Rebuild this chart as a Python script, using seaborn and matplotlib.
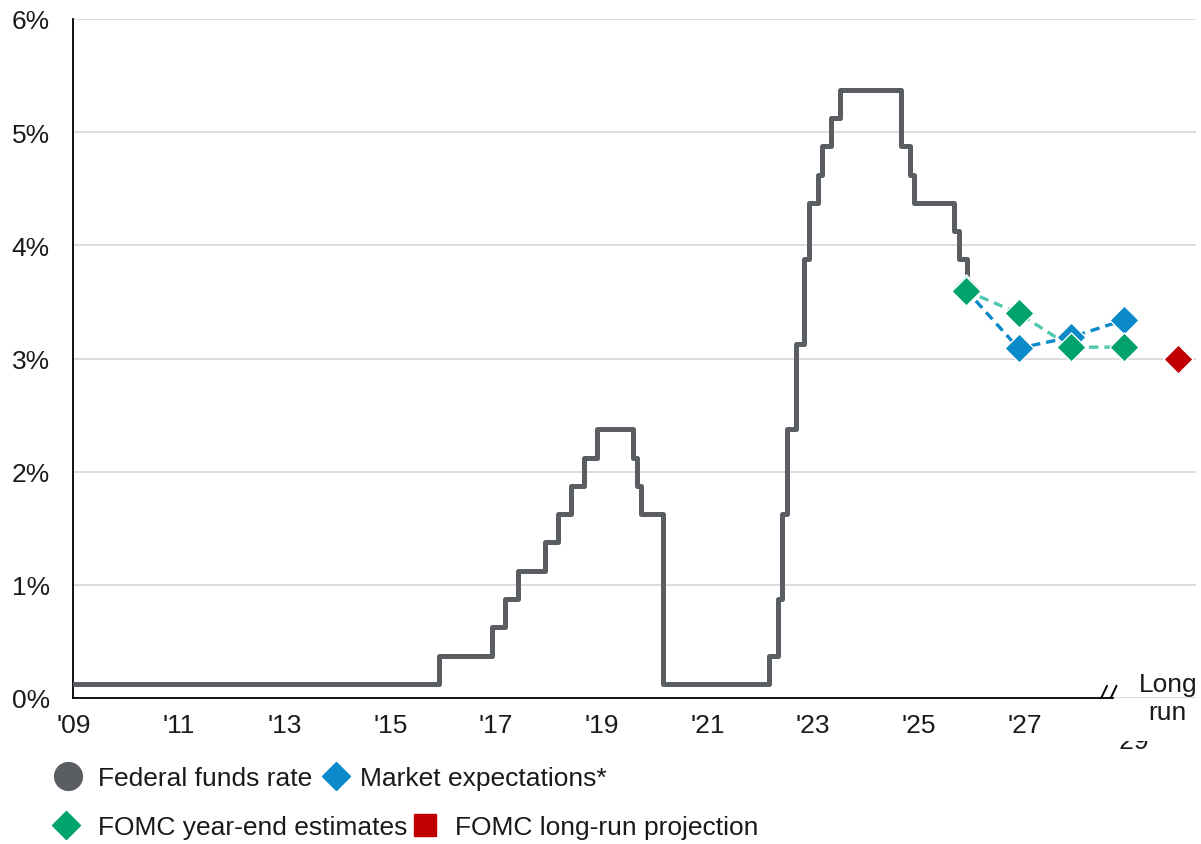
import numpy as np
import pandas as pd
import matplotlib
matplotlib.use("Agg")
import matplotlib.pyplot as plt
import matplotlib.transforms as mtransforms
from matplotlib.lines import Line2D
from matplotlib.patches import Rectangle
import seaborn as sns

# ---------------- data ----------------
# Federal funds rate (midpoint of target range): month of change and new level
change_months = ["2009-01", "2015-12", "2016-12", "2017-03", "2017-06", "2017-12",
                 "2018-03", "2018-06", "2018-09", "2018-12", "2019-08", "2019-09",
                 "2019-10", "2020-03", "2022-03", "2022-05", "2022-06", "2022-07",
                 "2022-09", "2022-11", "2022-12", "2023-02", "2023-03", "2023-05",
                 "2023-07", "2024-09", "2024-11", "2024-12", "2025-09", "2025-10",
                 "2025-12"]
change_levels = [0.125, 0.375, 0.625, 0.875, 1.125, 1.375,
                 1.625, 1.875, 2.125, 2.375, 2.125, 1.875,
                 1.625, 0.125, 0.375, 0.875, 1.625, 2.375,
                 3.125, 3.875, 4.375, 4.625, 4.875, 5.125,
                 5.375, 4.875, 4.625, 4.375, 4.125, 3.875,
                 3.625]
series_start, series_end = "2009-01", "2025-12"

proj_dates = ["2025-11-20", "2026-11-20", "2027-11-20", "2028-11-20"]
market_expectations = [3.61, 3.09, 3.19, 3.34]
fomc_year_end = [3.60, 3.40, 3.10, 3.10]
longrun_date = "2029-11-24"
fomc_long_run = [3.00]

tick_years = [2009, 2011, 2013, 2015, 2017, 2019, 2021, 2023, 2025, 2027, 2029]
tick_labels = ["'09", "'11", "'13", "'15", "'17", "'19", "'21", "'23", "'25", "'27", "'29"]
y_ticks = [0, 1, 2, 3, 4, 5, 6]
y_labels = ["0%", "1%", "2%", "3%", "4%", "5%", "6%"]

legend_labels = ["Federal funds rate", "Market expectations*",
                 "FOMC year-end estimates", "FOMC long-run projection"]

# ---------------- styling ----------------
GRAY = "#5a5d61"
BLUE = "#0a8ac8"
GREEN = "#00a36c"
TEAL = "#52c7b0"
RED = "#c00000"
TXT = "#1a1a1a"
FS = 19

sns.set_theme(style="white")
plt.rcParams["font.family"] = ["Liberation Sans", "DejaVu Sans"]


def dec_year(ts):
    ts = pd.Timestamp(ts)
    return ts.year + (ts.dayofyear - 1) / (366 if ts.is_leap_year else 365)


months = pd.period_range(series_start, series_end, freq="M")
rate = pd.Series(np.nan, index=months)
for m, v in zip(change_months, change_levels):
    rate[pd.Period(m, "M")] = v
rate = rate.ffill()
fed_df = pd.DataFrame({"x": months.year + (months.month - 1) / 12.0,
                       "rate": rate.values})

proj_x = [dec_year(d) for d in proj_dates]
lr_x = [dec_year(longrun_date)]
mkt_df = pd.DataFrame({"x": proj_x, "v": market_expectations})
fomc_df = pd.DataFrame({"x": proj_x, "v": fomc_year_end})
lr_df = pd.DataFrame({"x": lr_x, "v": fomc_long_run})

W, H = 1201, 845
fig = plt.figure(figsize=(W / 100, H / 100), dpi=100)
px_per_year = 52.85
x_min, x_max = 2009.0, 2030.25
left_px, bottom_px, top_px = 73.3, 699, 20
ax_h_px = bottom_px - top_px
ax = fig.add_axes([left_px / W, 1 - bottom_px / H,
                   (x_max - x_min) * px_per_year / W, ax_h_px / H])

sns.lineplot(data=fed_df, x="x", y="rate", ax=ax, color=GRAY, linewidth=3.6,
             drawstyle="steps-post", legend=False, zorder=3)

sns.lineplot(data=fomc_df, x="x", y="v", ax=ax, color=TEAL, linewidth=2.4,
             linestyle=(0, (2.8, 1.8)), legend=False, zorder=4)
sns.lineplot(data=mkt_df, x="x", y="v", ax=ax, color=BLUE, linewidth=2.4,
             linestyle=(0, (2.8, 1.8)), legend=False, zorder=5)
sns.scatterplot(data=mkt_df, x="x", y="v", ax=ax, marker="D", s=220, color=BLUE,
                edgecolor="white", linewidth=1.0, legend=False, zorder=6)
sns.scatterplot(data=fomc_df, x="x", y="v", ax=ax, marker="D", s=220, color=GREEN,
                edgecolor="white", linewidth=1.0, legend=False, zorder=7)
sns.scatterplot(data=lr_df, x="x", y="v", ax=ax, marker="D", s=220, color=RED,
                edgecolor="white", linewidth=1.0, legend=False, zorder=7, clip_on=False)

ax.set_xlim(x_min, x_max)
ax.set_ylim(0, 6)
ax.set_xlabel("")
ax.set_ylabel("")
# all year ticks except the last one, which sits behind the axis break
ax.set_xticks(tick_years[:-1])
ax.set_xticklabels(tick_labels[:-1], fontsize=FS)
ax.set_yticks(y_ticks)
ax.set_yticklabels(y_labels, fontsize=FS)
ax.tick_params(axis="x", length=5, width=1.2, color="black", pad=6, labelcolor=TXT)
ax.tick_params(axis="y", length=0, pad=17, labelcolor=TXT)
ax.grid(False)
ax.yaxis.grid(True, color="#d9d9d9", linewidth=1.3)
ax.set_axisbelow(True)
for s in ["top", "right"]:
    ax.spines[s].set_visible(False)
for s in ["left", "bottom"]:
    ax.spines[s].set_color("black")
    ax.spines[s].set_linewidth(1.3)
ax.spines["bottom"].set_bounds(x_min, 2028.68)
ax.spines["bottom"].set_zorder(8)

trans = mtransforms.blended_transform_factory(ax.transData, ax.transAxes)
# axis break marks
for x0 in (2028.45, 2028.63):
    ax.add_line(Line2D([x0, x0 + 0.11], [0.0, 0.018], transform=trans, color="black",
                       linewidth=1.4, clip_on=False, zorder=9))
# last year label, mostly masked by the break box (as in the source)
ax.text(tick_years[-1] + 0.02, -31 / ax_h_px, tick_labels[-1], transform=trans,
        ha="center", va="top", fontsize=FS, color=TXT, zorder=9, clip_on=False)
ax.add_patch(Rectangle((2028.42, -43 / ax_h_px), 1.2, 42 / ax_h_px, transform=trans,
                       facecolor="white", edgecolor="none", clip_on=False, zorder=10))
ax.text(2029.71, 0.0, "Long\nrun", transform=trans, ha="center", va="center",
        fontsize=FS, linespacing=1.22, color=TXT, zorder=11, clip_on=False)

# legend (two rows, free-flow layout)
items = [
    (Line2D([], [], marker="o", ls="none", color=GRAY, markersize=20), legend_labels[0], 55.3, 779, 0.6),
    (Line2D([], [], marker="D", ls="none", color=BLUE, markersize=14.5), legend_labels[1], 322.8, 779, 0.41),
    (Line2D([], [], marker="D", ls="none", color=GREEN, markersize=14), legend_labels[2], 53.3, 828, 0.68),
    (Line2D([], [], marker="s", ls="none", color=RED, markersize=16.5), legend_labels[3], 412.3, 828, 0.62),
]
for h, lab, lx, ly, pad in items:
    lg = fig.legend(handles=[h], labels=[lab], loc="center left",
                    bbox_to_anchor=(lx / W, 1 - ly / H), frameon=False, borderpad=0,
                    borderaxespad=0, handlelength=1.0, handletextpad=pad, fontsize=FS)
    for t in lg.get_texts():
        t.set_color(TXT)

fig.savefig("out.png", dpi=100, facecolor="white")
